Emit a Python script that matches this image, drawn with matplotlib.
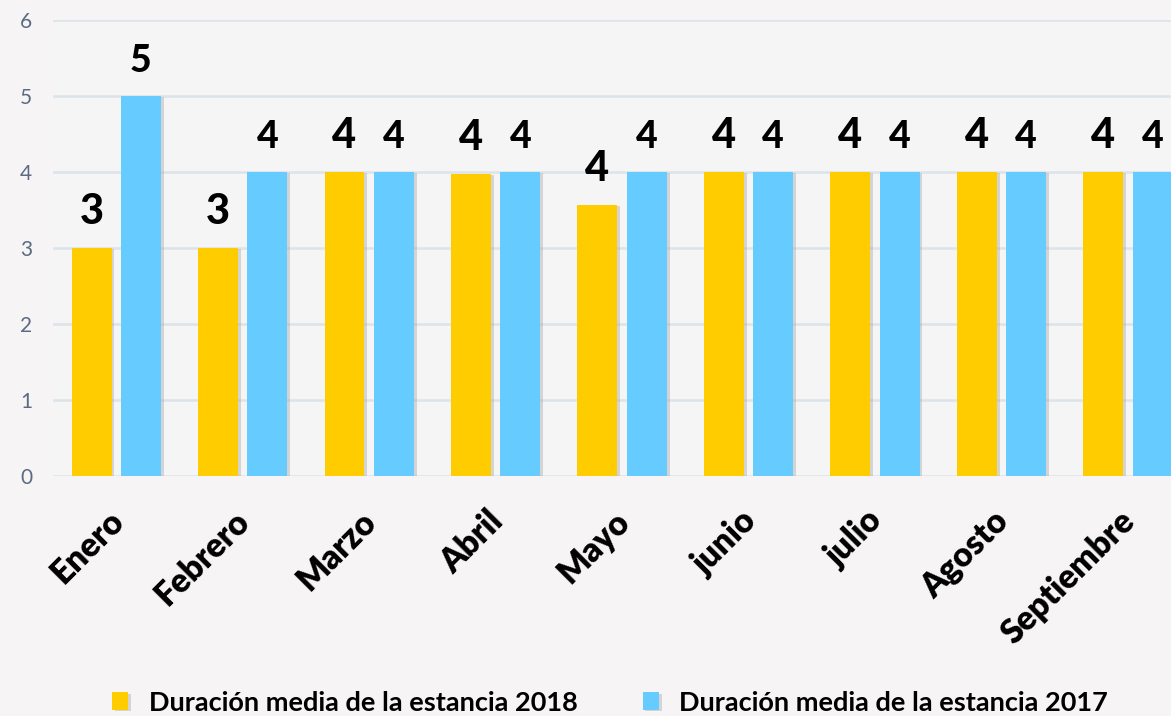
import matplotlib
matplotlib.use("Agg")
import matplotlib.pyplot as plt
import matplotlib.patheffects as pe
import matplotlib.transforms as mtransforms
import numpy as np

months = ["Enero", "Febrero", "Marzo", "Abril", "Mayo", "junio", "julio", "Agosto", "Septiembre"]
stay_2018 = [3.0, 3.0, 4.0, 3.98, 3.57, 4.0, 4.0, 4.0, 4.0]
stay_2017 = [5.0, 4.0, 4.0, 4.0, 4.0, 4.0, 4.0, 4.0, 4.0]
series_names = ["Duración media de la estancia 2018", "Duración media de la estancia 2017"]
y_ticks = [0, 1, 2, 3, 4, 5, 6]

plt.rcParams['font.family'] = ['Lato', 'DejaVu Sans']

fig = plt.figure(figsize=(11.71, 7.16), dpi=100, facecolor='#f6f4f5')
ax = fig.add_axes([53/1171, 1 - 476/716, 1 - 53/1171, (476 - 20)/716])
ax.set_facecolor('#f5f5f5')

x = np.arange(len(months))
w = 0.316
off = 0.195
shadow = [pe.SimplePatchShadow(offset=(2, -1), shadow_rgbFace='#999999', alpha=0.35), pe.Normal()]
b1 = ax.bar(x - off, stay_2018, w, color='#FFCC00', zorder=3, path_effects=shadow, label=series_names[0])
b2 = ax.bar(x + off, stay_2017, w, color='#66CCFF', zorder=3, path_effects=shadow, label=series_names[1])

for rect, v in zip(b1, stay_2018):
    ax.annotate(f"{round(v)}", (rect.get_x() + rect.get_width()/2, v), xytext=(0, 12),
                textcoords='offset points', ha='center', va='bottom', fontsize=30,
                fontweight='black', color='black', zorder=5)
for rect, v in zip(b2, stay_2017):
    ax.annotate(f"{round(v)}", (rect.get_x() + rect.get_width()/2, v), xytext=(0, 13),
                textcoords='offset points', ha='center', va='bottom', fontsize=27,
                fontweight='black', color='black', zorder=5)

ax.set_ylim(0, 6)
ax.set_xlim(-0.5, 8.34)
ax.set_yticks(y_ticks)
ax.set_yticklabels([str(t) for t in y_ticks], fontsize=15, color='#5b6b82')
ax.tick_params(axis='y', length=0, pad=15)
ax.set_xticks(x)
ax.set_xticklabels(months, rotation=45, ha='right', rotation_mode='anchor',
                   fontsize=24, fontweight='heavy', color='black')
ax.tick_params(axis='x', length=0, pad=22)
shift = mtransforms.ScaledTranslation(-0.09, 0.02, fig.dpi_scale_trans)
for lab in ax.get_xticklabels():
    lab.set_transform(lab.get_transform() + shift)
ax.grid(axis='y', color='#dde3ea', linewidth=1.8, zorder=0)
for s in ax.spines.values():
    s.set_visible(False)

handles = [b1, b2]
leg = fig.legend(handles, series_names, loc='lower center', bbox_to_anchor=(610/1171, -0.032),
                 ncol=2, frameon=False, prop={'weight': 'bold', 'size': 19.5},
                 handlelength=0.6, handleheight=0.6, handletextpad=0.75, columnspacing=2.4)

fig.savefig("out.png", dpi=100, facecolor=fig.get_facecolor())
